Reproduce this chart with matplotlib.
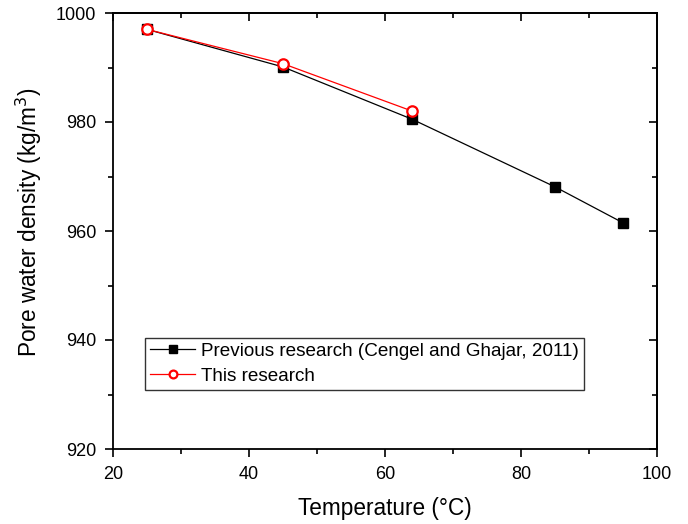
import matplotlib
matplotlib.use("Agg")
import matplotlib.pyplot as plt
from matplotlib.ticker import MultipleLocator

plt.rcParams['font.family'] = ['Liberation Sans', 'DejaVu Sans']

# data
temp_prev = [25, 45, 64, 85, 95]
dens_prev = [997.0, 990.1, 980.5, 968.1, 961.5]
temp_this = [25, 45, 64]
dens_this = [997.0, 990.7, 982.0]

fig = plt.figure(figsize=(6.88, 5.24), dpi=100)
ax = fig.add_axes([113 / 688, 1 - 449 / 524, 544 / 688, 436 / 524])

ax.plot(temp_prev, dens_prev, color='black', linewidth=0.9, marker='s', markersize=7,
        markerfacecolor='black', markeredgecolor='black',
        label='Previous research (Cengel and Ghajar, 2011)')
ax.plot(temp_this, dens_this, color='red', linewidth=0.9, marker='o', markersize=7.5,
        markerfacecolor='white', markeredgecolor='red', markeredgewidth=1.6,
        label='This research')

ax.set_xlim(20, 100)
ax.set_ylim(920, 1000)
ax.xaxis.set_major_locator(MultipleLocator(20))
ax.xaxis.set_minor_locator(MultipleLocator(10))
ax.yaxis.set_major_locator(MultipleLocator(20))
ax.yaxis.set_minor_locator(MultipleLocator(10))

for s in ax.spines.values():
    s.set_linewidth(1.3)

ax.tick_params(which='both', direction='out', width=1.2, labelsize=13,
               top=False, right=False)
ax.tick_params(which='major', length=6, pad=6)
ax.tick_params(which='minor', length=3.5)

# mirrored inward ticks on top and right (Origin style)
ax_top = ax.secondary_xaxis('top')
ax_top.xaxis.set_major_locator(MultipleLocator(20))
ax_top.xaxis.set_minor_locator(MultipleLocator(10))
ax_top.tick_params(which='both', direction='in', width=1.2, labeltop=False)
ax_top.tick_params(which='major', length=6)
ax_top.tick_params(which='minor', length=3.5)
ax_top.spines['top'].set_linewidth(1.3)
ax_right = ax.secondary_yaxis('right')
ax_right.yaxis.set_major_locator(MultipleLocator(20))
ax_right.yaxis.set_minor_locator(MultipleLocator(10))
ax_right.tick_params(which='both', direction='in', width=1.2, labelright=False)
ax_right.tick_params(which='major', length=6)
ax_right.tick_params(which='minor', length=3.5)
ax_right.spines['right'].set_linewidth(1.3)

ax.set_xlabel('Temperature (°C)', fontsize=16.3, labelpad=10)
ax.set_ylabel('Pore water density (kg/m$^3$)', fontsize=16.3)
ax.yaxis.set_label_coords(-0.127, 0.52)

leg = ax.legend(loc='lower left', bbox_to_anchor=(0.059, 0.135), fontsize=13.6,
                frameon=True, fancybox=False, edgecolor='black', borderpad=0.28,
                handlelength=2.35, handletextpad=0.35, labelspacing=0.4,
                borderaxespad=0, markerscale=0.75)
leg.get_frame().set_linewidth(1.0)

fig.savefig('out.png', dpi=100)
